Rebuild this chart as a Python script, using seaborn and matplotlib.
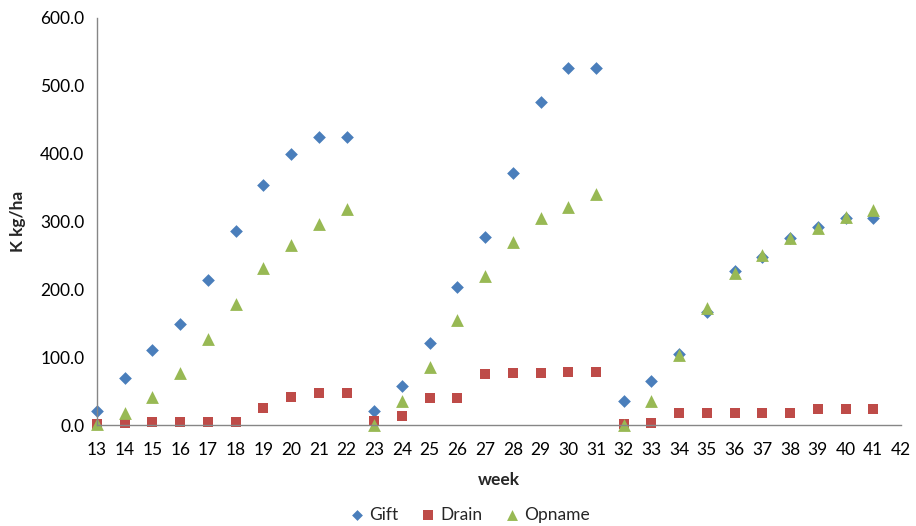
import matplotlib
matplotlib.use("Agg")
import matplotlib.pyplot as plt
import seaborn as sns
import pandas as pd

weeks = list(range(13, 42))
gift = [20, 69, 110, 149, 214, 286, 354, 400, 425, 425,
        20, 58, 121, 204, 277, 372, 476, 527, 527,
        35, 65, 105, 167, 227, 248, 276, 292, 305, 305]
drain = [1, 3, 4, 5, 5, 5, 25, 41, 47, 47,
         6, 13, 40, 40, 75, 77, 77, 78, 78,
         2, 3, 17, 18, 18, 18, 18, 24, 24, 24]
opname = [1, 17, 42, 76, 127, 179, 231, 265, 296, 318,
          0, 35, 86, 155, 219, 270, 305, 322, 340,
          0, 35, 103, 173, 224, 251, 275, 291, 307, 317]
series_names = ["Gift", "Drain", "Opname"]
colors = ["#4A7EBB", "#BE4B48", "#98B954"]
markers = ["D", "s", "^"]
msizes = [42, 60, 85]
yticks = [0, 100, 200, 300, 400, 500, 600]
xticks = list(range(13, 43))

sns.set_style("white")
plt.rcParams["font.family"] = ["Lato", "DejaVu Sans"]

fig = plt.figure(figsize=(9.16, 5.26), dpi=100)
ax = fig.add_axes([0.1059, 0.192, 0.8777, 0.7738])

for name, vals, c, m, s in zip(series_names, [gift, drain, opname], colors, markers, msizes):
    d = pd.DataFrame({"week": weeks, "value": vals})
    sns.scatterplot(data=d, x="week", y="value", color=c, marker=m, s=s,
                    linewidth=0, ax=ax, clip_on=False, label=name)

ax.set_xlim(13, 42)
ax.set_ylim(0, 600)
ax.set_xticks(xticks)
ax.set_yticks(yticks)
ax.set_yticklabels([f"{v:.1f}" for v in yticks])
ax.tick_params(axis="both", labelsize=12.5, length=5, width=1,
               direction="out", colors="#868686", labelcolor="black", pad=4)
ax.tick_params(axis="x", pad=7)
for side in ["top", "right"]:
    ax.spines[side].set_visible(False)
for side in ["left", "bottom"]:
    ax.spines[side].set_color("#868686")
    ax.spines[side].set_linewidth(1)
ax.set_xlabel("week", fontsize=12.5, fontweight="bold", labelpad=10)
ax.set_ylabel("K kg/ha", fontsize=12.5, fontweight="bold", labelpad=10)

handles, labels = ax.get_legend_handles_labels()
ax.legend(handles, labels, loc="center", bbox_to_anchor=(0.464, -0.22),
          ncol=3, frameon=False, fontsize=12.5, handletextpad=0.3,
          handlelength=0.8, columnspacing=1.3, markerscale=0.85)

fig.savefig("out.png", dpi=100)
